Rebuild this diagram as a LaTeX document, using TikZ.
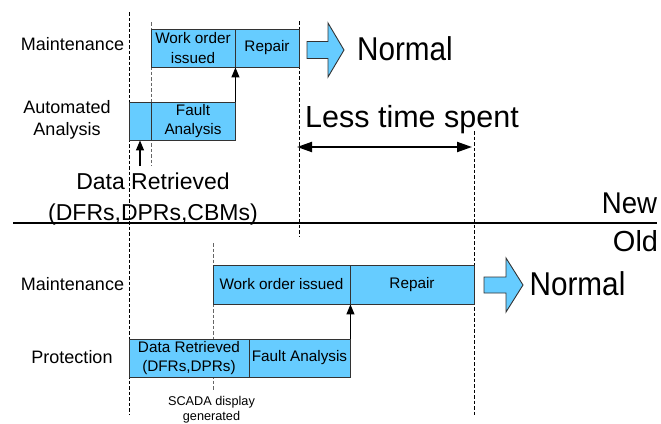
\documentclass[tikz,border=0pt]{standalone}
\usepackage{fontspec}
\setmainfont{Liberation Sans}
\usetikzlibrary{arrows.meta}
\definecolor{boxblue}{HTML}{66CCFF}
\definecolor{edgegray}{gray}{0.2}
\newcommand{\fsz}[2]{\fontsize{#1}{#2}\selectfont}
\newcommand{\narrowtext}[2]{\scalebox{#1}[1]{#2}}

\begin{document}
\begin{tikzpicture}[x=1pt,y=-1pt,
  cellbox/.style={draw=edgegray, line width=0.9pt, fill=boxblue, inner sep=0pt,
    minimum height=38pt, font=\fsz{15.3}{19.5}},
  lbl/.style={inner sep=0pt, align=center},
  guide/.style={line width=0.8pt, dash pattern=on 3.5pt off 2pt},
  guidegray/.style={guide, draw=black!60},
  uparrow/.style={-{Triangle[length=10pt,width=8pt]}, line width=1.2pt},
  spanarrow/.style={{Triangle[length=15pt,width=10pt]}-{Triangle[length=15pt,width=10pt]}, line width=2pt},
  blockarrow/.style={draw=edgegray, line width=0.9pt, fill=boxblue, line join=miter}
]
\useasboundingbox (0,0) rectangle (661,423);

% time guides
\draw[guide] (129,12) -- (129,415);
\draw[guidegray] (151,22) -- (151,166);
\draw[guide] (299,21) -- (299,236);
\draw[guide] (474,131) -- (474,415);
\draw[guidegray] (213,243) -- (213,390);

% ---------- new process ----------
\node[lbl, font=\fsz{18}{22}] (newmaint) at (72.5,44) {Maintenance};
\node[lbl, font=\fsz{18}{22}] (newauto) at (67,120) {Automated\\Analysis};

\node[cellbox, minimum width=84pt, align=center] (twork) at (193,48) {Work order\\issued};
\node[cellbox, minimum width=64pt] (trep) at (267,48) {Repair};
\node[cellbox, minimum width=22pt] (tdata) at (140,121) {};
\node[cellbox, minimum width=84pt, align=center] (tfault) at (193,121) {Fault\\Analysis};

\draw[uparrow] (tfault.north east) -- (twork.south east);
\coordinate (dataret) at (140,166);
\draw[uparrow] (dataret) -- (tdata.south);

\node[lbl, font=\fsz{23}{31}] (dretr) at (153,199) {Data Retrieved\\(DFRs,DPRs,CBMs)};

\draw[blockarrow] (307,41.5) -- (328,41.5) -- (328,23) -- (344,50) -- (328,77) -- (328,58.5) -- (307,58.5) -- cycle;
\node[lbl, anchor=base, font=\fsz{33}{38}] (tnormal) at (405,60) {\narrowtext{0.9}{Normal}};

\node[lbl, anchor=base, font=\fsz{30.5}{36}] (lesstime) at (412,127) {Less time spent};
\coordinate (spanL) at (297,147);
\coordinate (spanR) at (472,147);
\draw[spanarrow] (spanL) -- (spanR);

% divider
\coordinate (divL) at (13,223);
\coordinate (divR) at (657,223);
\draw[line width=2.5pt] (divL) -- (divR);
\node[lbl, anchor=base, font=\fsz{30}{36}] (newlbl) at (629.5,213) {\narrowtext{0.92}{New}};
\node[lbl, anchor=base, font=\fsz{29}{34}] (oldlbl) at (635.5,251) {Old};

% ---------- old process ----------
\node[lbl, font=\fsz{18}{22}] (oldmaint) at (72.5,284) {Maintenance};
\node[lbl, font=\fsz{18}{22}] (oldprot) at (72,357) {Protection};

\node[cellbox, minimum width=137pt, minimum height=39pt] (bwork) at (281.5,284.5) {Work order issued};
\node[cellbox, minimum width=124pt, minimum height=39pt] (brep) at (412,284.5) {Repair\hspace{24pt}};
\node[cellbox, minimum width=120pt, align=center] (bdata) at (189,358) {Data Retrieved\\(DFRs,DPRs)};
\node[cellbox, minimum width=101pt] (bfault) at (299.5,358) {Fault Analysis};

\draw[uparrow] (bfault.north east) -- (bwork.south east);

\draw[blockarrow] (484,277) -- (506,277) -- (506,258) -- (523,285) -- (506,312) -- (506,293) -- (484,293) -- cycle;
\node[lbl, anchor=base, font=\fsz{33}{38}] (bnormal) at (577.5,295) {\narrowtext{0.9}{Normal}};

\node[lbl, font=\fsz{12.7}{15}] (scada) at (211.5,410) {SCADA display\\generated};
\end{tikzpicture}
\end{document}
